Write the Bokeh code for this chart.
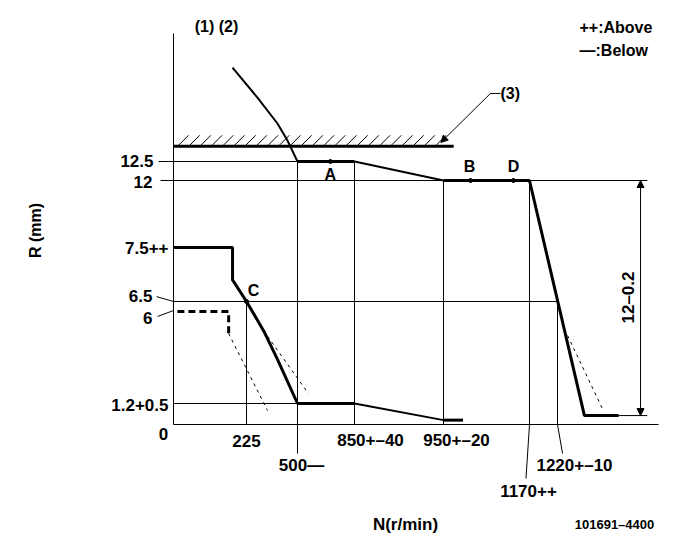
import numpy as np
from bokeh.plotting import figure
from bokeh.models import Range1d, Arrow, NormalHead
from bokeh.core.properties import value
from bokeh.embed import file_html
from bokeh.resources import INLINE

# ---- schematic (non-linear) scale knots: speed (r/min) -> drawing x, rack (mm) -> drawing y
N_KNOT = [-100, 0, 225, 500, 850, 950, 1170, 1220, 1400]
X_KNOT = [140.6, 173, 246, 297, 354, 443, 529, 557, 658]
R_KNOT = [-6, 0, 1.2, 6, 6.5, 7.5, 12, 12.5, 16]
Y_KNOT = [529, 424, 403, 311, 301, 247, 180, 161, 28]

def X(n):
    return np.interp(np.asarray(n, dtype=float), N_KNOT, X_KNOT)

def Y(r):
    return np.interp(np.asarray(r, dtype=float), R_KNOT, Y_KNOT)

# ---- data
speed_ticks = [225, 850, 950, 500, 1220, 1170]
speed_labels = ["225", "850+\u201340", "950+\u201320", "500\u2014", "1220+\u201310", "1170++"]
speed_label_row = [0, 0, 0, 1, 1, 2]

rack_ticks = [12.5, 12, 7.5, 6.5, 6, 1.2]
rack_labels = ["12.5", "12", "7.5++", "6.5", "6", "1.2+0.5"]

# start / idle curve (lower)
low_n = [0, 182, 182, 225, 317, 392, 500, 850]
low_r = [7.5, 7.5, 6.9, 6.5, 5.0, 3.5, 1.2, 1.2]
low_slope_n = [850, 950]
low_slope_r = [1.2, 0.25]
low_end_n = [950, 1000]
low_end_r = [0.25, 0.25]

# full-load curve (upper)
up_curve_n = [182, 284, 392, 446, 500]
up_curve_r = [14.97, 14.18, 13.5, 13.05, 12.5]
up_flat_n = [500, 850]
up_flat_r = [12.5, 12.5]
up_slope_n = [850, 950]
up_slope_r = [12.5, 12.0]
gov_n = [950, 1170, 1268, 1329]
gov_r = [12.0, 12.0, 0.51, 0.51]

# dashed (6 mm) line and tolerance dotted lines
dash_n = [12, 170, 170]
dash_r = [6, 6, 4.85]
dot1_n, dot1_r = [170, 338], [4.85, 0.8]
dot2_n, dot2_r = [317, 567], [5.0, 1.72]
dot3_n, dot3_r = [1238, 1300], [4.74, 0.91]

stopper_r = 12.9
stopper_n = [0, 976]

points_n = [702, 1019, 1129, 225]
points_r = [12.5, 12.0, 12.0, 6.5]
points_lbl = ["A", "B", "D", "C"]

FONT = value("Liberation Sans")

p = figure(width=669, height=541, output_backend="svg", toolbar_location=None,
           x_range=Range1d(0, 669), y_range=Range1d(541, 0),
           x_axis_location=None, y_axis_location=None, min_border=0)
p.grid.visible = False
p.outline_line_color = None

K = "black"

def line(n, r, w=1, dash="solid"):
    p.line(X(n), Y(r), line_color=K, line_width=w, line_dash=dash)

# axes
line([0, 0], [15.87, 0])
line([0, 1400], [0, 0])

# grid / reference lines
line([-46, 500], [12.5, 12.5])
line([-40, 1380], [12, 12])
line([0, 1220], [6.5, 6.5])
line([0, 500], [1.2, 1.2])
line([1329, 1380], [0.51, 0.51])
line([225, 225], [6.5, 0])
line([500, 500], [12.5, -1.66])
line([850, 850], [12.5, 0])
line([950, 950], [12, 0])
line([1170, 1170], [12, 0])
line([1170, 1161], [0, -3.09])
line([1220, 1220], [6.5, 0])
line([1220, 1229], [0, -1.66])
# label leaders on the R axis
line([-52, 0], [6.59, 6.5])
line([-49, 0], [5.74, 6.05])

# curves
line(low_n, low_r, 3)
line(low_slope_n, low_slope_r, 2)
line(low_end_n, low_end_r, 3)
line(up_curve_n, up_curve_r, 2)
line(up_flat_n, up_flat_r, 3)
line(up_slope_n, up_slope_r, 2)
line(gov_n, gov_r, 3)
line(dash_n, dash_r, 3, "7 4")
line(dot1_n, dot1_r, 1, "3 4")
line(dot2_n, dot2_r, 1, "3 4")
line(dot3_n, dot3_r, 1, "3 4")

# stopper with hatching
line(stopper_n, [stopper_r, stopper_r], 3)
hx = np.arange(float(X(stopper_n[0])) + 5, float(X(stopper_n[1])) - 8, 11.2)
ys = float(Y(stopper_r))
p.segment(hx, ys - 1, hx + 10, ys - 11, line_color=K, line_width=1)

# leader (3)
line([1070, 1096], [14.29, 14.29])
p.add_layout(Arrow(end=NormalHead(size=7, fill_color=K, line_color=K),
                   x_start=float(X(1070)), y_start=float(Y(14.29)),
                   x_end=float(X(947)), y_end=float(Y(13.0)), line_width=1, line_color=K))

# dimension 12-0.2
p.add_layout(Arrow(start=NormalHead(size=7, fill_color=K, line_color=K),
                   end=NormalHead(size=7, fill_color=K, line_color=K),
                   x_start=float(X(1368)), y_start=float(Y(12)),
                   x_end=float(X(1368)), y_end=float(Y(0.51)), line_width=1, line_color=K))

# points
p.scatter(X(points_n), Y(points_r), size=4, color=K)

def txt(x, y, s, size=17, align="center", angle=0.0, style="bold"):
    p.text([x], [y], text=[s], text_font=FONT, text_font_size=f"{size}px",
           text_font_style=style, text_align=align, text_baseline="middle",
           angle=angle, text_color=K)

# speed tick labels
row_dy = [16, 41, 66]
for n, s, row in zip(speed_ticks, speed_labels, speed_label_row):
    dx = {"850+\u201340": 16, "950+\u201320": 13, "500\u2014": 4, "1220+\u201310": 17, "1170++": -1}.get(s, 0)
    txt(float(X(n)) + dx, float(Y(0)) + row_dy[row], s)
txt(float(X(0)) - 10, float(Y(0)) + 9, "0")

# rack tick labels
rack_dx = [-20, -21, -5, -21, -21, -5]
rack_dy = [-1, 1, 0, -6, 6, 1]
for r, s, dx, dy in zip(rack_ticks, rack_labels, rack_dx, rack_dy):
    txt(float(X(0)) + dx, float(Y(r)) + dy, s, align="right")

# point labels
pl_dx = [0, -1, 0, 7]
pl_dy = [13, -14, -14, -11]
for n, r, s, dx, dy in zip(points_n, points_r, points_lbl, pl_dx, pl_dy):
    txt(float(X(n)) + dx, float(Y(r)) + dy, s, size=16)

txt(216, 26, "(1) (2)", size=16)
txt(579, 27, "++:Above", size=16, align="left")
txt(579, 50, "\u2014:Below", size=16, align="left")
txt(500, 93, "(3)", size=16, align="left")
txt(35, 230, "R (mm)", size=16, angle=np.pi / 2)
txt(628, 297, "12\u20130.2", size=17, angle=np.pi / 2)
txt(405, 524, "N(r/min)", size=17)
txt(614, 524, "101691\u20134400", size=13)

open("out.html", "w").write(file_html(p, INLINE))
